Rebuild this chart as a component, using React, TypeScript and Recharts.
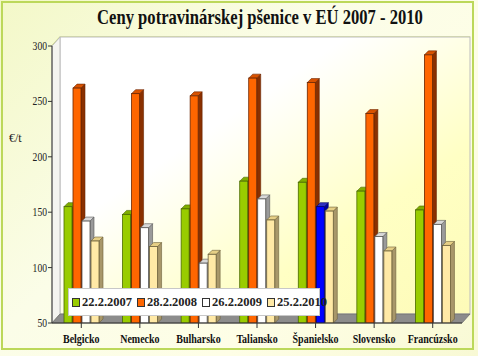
import React from 'react';
import { BarChart, Bar, XAxis, YAxis, CartesianGrid, Cell, usePlotArea } from 'recharts';

const categories = ['Belgicko', 'Nemecko', 'Bulharsko', 'Taliansko', 'Španielsko', 'Slovensko', 'Francúzsko'];
const s2007 = [155, 148, 153, 178, 177, 169, 152];
const s2008 = [262, 257, 255, 271, 267, 239, 292];
const s2009 = [142, 136, 104, 162, 155, 128, 139];
const s2010 = [124, 119, 112, 143, 151, 115, 120];
const seriesNames = ['22.2.2007', '28.2.2008', '26.2.2009', '25.2.2010'];
const yTicks = [50, 100, 150, 200, 250, 300];

const data = categories.map((c, i) => ({ name: c, a: s2007[i], b: s2008[i], c: s2009[i], d: s2010[i] }));

const SERIF = '"Liberation Serif", "Times New Roman", Tinos, "DejaVu Serif", serif';

const colors = [
  { front: '#99cc00', top: '#7fad00', side: '#5f8500', stroke: '#4a6a00' },
  { front: '#ff6600', top: '#d95200', side: '#8a3000', stroke: '#6a2500' },
  { front: '#ffffff', top: '#d8d8d8', side: '#9a9a9a', stroke: '#555555' },
  { front: '#ffe9a6', top: '#e6cf86', side: '#a8976a', stroke: '#6b5f3a' },
];
const blue = { front: '#0000ff', top: '#3030c0', side: '#000099', stroke: '#000066' };

const D = 4;

const make3D = (c: any) => (props: any) => {
  const { x, y, width, height, fill } = props;
  const col = fill === '#0000ff' ? blue : c;
  const w = width;
  const h = height;
  return (
    <g>
      <polygon points={`${x + w},${y} ${x + w + D},${y - D} ${x + w + D},${y + h - D} ${x + w},${y + h}`} fill={col.side} stroke={col.stroke} strokeWidth={0.6} />
      <polygon points={`${x},${y} ${x + D},${y - D} ${x + w + D},${y - D} ${x + w},${y}`} fill={col.top} stroke={col.stroke} strokeWidth={0.6} />
      <rect x={x} y={y} width={w} height={h} fill={col.front} stroke={col.stroke} strokeWidth={0.8} />
    </g>
  );
};

const DX = 8;
const DY = 9;

const Walls = () => {
  const pa: any = usePlotArea();
  if (!pa) return null;
  const { x, y, width, height } = pa;
  const bottom = y + height;
  const right = x + width;
  return (
    <g>
      <defs>
        <linearGradient id="wallg" x1="0" y1="0" x2="1" y2="1">
          <stop offset="0%" stopColor="#ffffff" />
          <stop offset="35%" stopColor="#ffffff" />
          <stop offset="70%" stopColor="#ffffc4" />
          <stop offset="100%" stopColor="#fdfbb8" />
        </linearGradient>
      </defs>
      <rect x={x + DX} y={y - DY} width={width} height={height} fill="url(#wallg)" stroke="#bdbdbd" strokeWidth={1} />
      <polygon points={`${x},${bottom} ${x},${y} ${x + DX},${y - DY} ${x + DX},${bottom - DY}`} fill="#f4f4f0" stroke="#bdbdbd" strokeWidth={1} />
      <polygon points={`${x},${bottom} ${x + DX},${bottom - DY} ${right + DX},${bottom - DY} ${right},${bottom}`} fill="#8c8c8c" stroke="#707070" strokeWidth={0.8} />
    </g>
  );
};

const gridLine = (props: any) => {
  const { x1, x2, y1 } = props;
  return (
    <g key={`g-${y1}`}>
      <line x1={x1} y1={y1} x2={x1 + DX} y2={y1 - DY} stroke="#c9d86a" strokeWidth={1.2} />
      <line x1={x1 + DX} y1={y1 - DY} x2={x2 + DX} y2={y1 - DY} stroke="#c9d86a" strokeWidth={1.2} />
    </g>
  );
};

const XTick = (props: any) => {
  const { x, y, payload } = props;
  return (
    <text transform={`translate(${x},${y + 13}) scale(0.8,1)`} textAnchor="middle" fontFamily={SERIF} fontWeight="bold" fontSize={12.5} fill="#111">
      {payload.value}
    </text>
  );
};

const YTick = (props: any) => {
  const { x, y, payload } = props;
  return (
    <text transform={`translate(${x + 1},${y + 4}) scale(0.8,1)`} textAnchor="end" fontFamily={SERIF} fontSize={12} fill="#222">
      {payload.value}
    </text>
  );
};

const LegendBox = () => {
  const cols = colors.map((c) => c.front);
  return (
    <div style={{ position: 'absolute', left: 68, top: 288, width: 252, background: '#ffffff', border: '1px solid #c8c8c8', display: 'flex', alignItems: 'center', height: 28, boxSizing: 'border-box', paddingLeft: 3, fontFamily: SERIF, fontWeight: 'bold', fontSize: 12.5, color: '#222' }}>
      {seriesNames.map((n, i) => (
        <div key={n} style={{ display: 'flex', alignItems: 'center', marginRight: 5 }}>
          <span style={{ display: 'inline-block', width: 6, height: 7, background: cols[i], border: '1px solid #333', marginRight: 2 }} />
          <span>{n}</span>
        </div>
      ))}
    </div>
  );
};

export default function App() {
  return (
    <div style={{ position: 'absolute', left: 0, top: 0, width: 478, height: 356, background: 'linear-gradient(135deg, #f3f8c8 0%, #fbfde8 40%, #fefee6 70%, #f8f9d4 100%)', overflow: 'hidden' }}>
      <div style={{ position: 'absolute', left: 1, top: 1, width: 473, height: 349, border: '2px solid #bcd85a', boxSizing: 'border-box' }} />
      <div style={{ position: 'absolute', left: 0, top: 5, width: 520, textAlign: 'center', fontFamily: SERIF, fontWeight: 'bold', fontSize: 21, color: '#111', transform: 'scaleX(0.79)', transformOrigin: '260px 0' }}>
        Ceny potravinárskej pšenice v EÚ 2007 - 2010
      </div>
      <div style={{ position: 'absolute', left: 9, top: 131, fontFamily: SERIF, fontSize: 12, color: '#222' }}>€/t</div>
      <div style={{ position: 'absolute', left: 0, top: 0 }}>
        <BarChart width={478} height={356} data={data} margin={{ top: 46, right: 16, bottom: 8, left: 0 }} barCategoryGap={12} barGap={1}>
          <Walls />
          <CartesianGrid vertical={false} horizontal={gridLine} stroke="#c9d86a" />
          <XAxis dataKey="name" height={25} interval={0} tickLine={{ stroke: '#333' }} axisLine={{ stroke: '#333' }} tickSize={5}
            tick={<XTick />} />
          <YAxis width={52} domain={[50, 300]} ticks={yTicks} allowDataOverflow interval={0} tickSize={4}
            tickLine={{ stroke: '#333' }} axisLine={{ stroke: '#333' }}
            tick={<YTick />} />
          <Bar dataKey="a" name={seriesNames[0]} fill={colors[0].front} shape={make3D(colors[0])} isAnimationActive={false} />
          <Bar dataKey="b" name={seriesNames[1]} fill={colors[1].front} shape={make3D(colors[1])} isAnimationActive={false} />
          <Bar dataKey="c" name={seriesNames[2]} fill={colors[2].front} shape={make3D(colors[2])} isAnimationActive={false}>
            {categories.map((c, i) => (
              <Cell key={c} fill={c === 'Španielsko' ? '#0000ff' : colors[2].front} />
            ))}
          </Bar>
          <Bar dataKey="d" name={seriesNames[3]} fill={colors[3].front} shape={make3D(colors[3])} isAnimationActive={false} />
        </BarChart>
      </div>
      <LegendBox />
    </div>
  );
}
